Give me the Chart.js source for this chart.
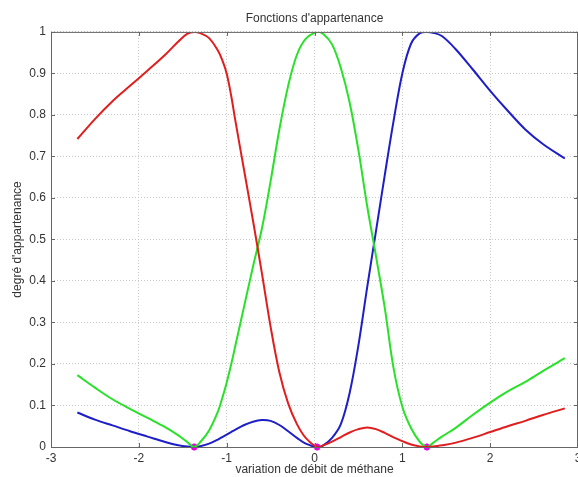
<!DOCTYPE html>
<html lang="fr">
<head>
<meta charset="UTF-8">
<title>Fonctions d'appartenance</title>
<script src="https://cdn.jsdelivr.net/npm/chart.js"></script>
<style>
  html, body { margin: 0; padding: 0; background: #fff; }
  #wrap { width: 578px; height: 477px; }
</style>
</head>
<body>
<div id="wrap"><canvas id="chart" width="578" height="477"></canvas></div>
<script>
// valeurs
const xValues = [-2.7, -2.5, -2.3, -2.1, -1.9, -1.7, -1.55, -1.45, -1.37, -1.3, -1.2, -1.1, -1.05, -1.0, -0.95, -0.9, -0.8, -0.7, -0.6, -0.5, -0.4, -0.3, -0.2, -0.1, 0.03,
                 0.1, 0.2, 0.3, 0.4, 0.5, 0.6, 0.7, 0.8, 0.9, 1.0, 1.1, 1.2, 1.28, 1.35, 1.45, 1.6, 1.8, 2.0, 2.2, 2.4, 2.6, 2.85];
const redValues = [0.742, 0.79, 0.833, 0.87, 0.907, 0.945, 0.977, 0.995, 1.0, 0.997, 0.985, 0.955, 0.932, 0.9, 0.848, 0.785, 0.665, 0.545, 0.42, 0.29, 0.18, 0.105, 0.055, 0.022, 0,
                   0.004, 0.013, 0.024, 0.035, 0.043, 0.047, 0.043, 0.034, 0.023, 0.014, 0.006, 0.0015, 0, 0.001, 0.004, 0.01, 0.022, 0.036, 0.05, 0.063, 0.077, 0.093];
const greenValues = [0.173, 0.143, 0.115, 0.092, 0.07, 0.048, 0.028, 0.012, 0, 0.012, 0.04, 0.085, 0.118, 0.155, 0.198, 0.245, 0.34, 0.435, 0.525, 0.64, 0.765, 0.87, 0.945, 0.983, 1.0,
                     0.995, 0.97, 0.913, 0.83, 0.715, 0.58, 0.46, 0.335, 0.19, 0.097, 0.045, 0.012, 0, 0.01, 0.025, 0.045, 0.077, 0.107, 0.134, 0.157, 0.183, 0.214];
const blueValues = [0.083, 0.066, 0.052, 0.038, 0.025, 0.012, 0.004, 0.001, 0, 0.002, 0.008, 0.018, 0.024, 0.03, 0.036, 0.042, 0.053, 0.061, 0.065, 0.063, 0.053, 0.038, 0.022, 0.008, 0,
                    0.004, 0.022, 0.055, 0.13, 0.245, 0.385, 0.52, 0.655, 0.785, 0.9, 0.972, 0.997, 1.0, 0.998, 0.99, 0.96, 0.91, 0.858, 0.81, 0.765, 0.73, 0.695];
const centerX = [-1.37, 0.03, 1.28];
const centerY = [0, 0, 0];
const xTicks = [-3, -2, -1, 0, 1, 2, 3];

const toPoints = (ys) => xValues.map((x, i) => ({x: x, y: ys[i]}));

const lineSet = (ys, color) => ({
    data: toPoints(ys),
    borderColor: color,
    borderWidth: 2,
    pointRadius: 0,
    fill: false,
    tension: 0.35,
    capBezierPoints: false
});

// cadre + petites graduations vers l'intérieur (style matlab)
const boxPlugin = {
    id: 'box',
    afterDatasetsDraw(chart) {
        const {ctx, chartArea: a, scales} = chart;
        ctx.save();
        ctx.strokeStyle = '#666';
        ctx.lineWidth = 1;
        ctx.strokeRect(a.left + 0.5, a.top + 0.5, a.right - a.left - 1, a.bottom - a.top);
        ctx.beginPath();
        xTicks.forEach(v => {
            const px = Math.round(scales.x.getPixelForValue(v)) + 0.5;
            ctx.moveTo(px, a.bottom); ctx.lineTo(px, a.bottom - 4);
            ctx.moveTo(px, a.top); ctx.lineTo(px, a.top + 4);
        });
        for (let k = 0; k <= 10; k++) {
            const py = Math.round(scales.y.getPixelForValue(k / 10)) + 0.5;
            ctx.moveTo(a.left, py); ctx.lineTo(a.left + 4, py);
            ctx.moveTo(a.right, py); ctx.lineTo(a.right - 4, py);
        }
        ctx.stroke();
        ctx.restore();
    }
};

const font = {family: "'Liberation Sans', Arial, Helvetica, sans-serif", size: 12};

new Chart(document.getElementById('chart'), {
    type: 'line',
    data: {
        datasets: [
            lineSet(redValues, 'rgb(225, 30, 30)'),
            lineSet(greenValues, 'rgb(40, 225, 40)'),
            lineSet(blueValues, 'rgb(30, 30, 200)'),
            {
                data: centerX.map((x, i) => ({x: x, y: centerY[i]})),
                showLine: false,
                clip: false,
                pointStyle: 'star',
                pointRadius: 3.5,
                borderColor: 'rgb(230, 0, 230)',
                backgroundColor: 'rgb(230, 0, 230)',
                borderWidth: 2
            }
        ]
    },
    options: {
        responsive: false,
        animation: false,
        events: [],
        layout: {padding: 0, autoPadding: false},
        plugins: {
            legend: {display: false},
            tooltip: {enabled: false},
            title: {
                display: true,
                fullSize: false,
                text: "Fonctions d'appartenance",
                color: '#333',
                font: {family: font.family, size: 12, weight: 'normal'},
                padding: {top: 11.5, bottom: 6}
            }
        },
        scales: {
            x: {
                type: 'linear',
                min: -3, max: 3,
                afterBuildTicks: (s) => { s.ticks = xTicks.map(v => ({value: v})); },
                afterFit: (s) => { s.height = 30; s.paddingLeft = 0; s.paddingRight = 0; },
                ticks: {color: '#333', font: font, padding: 4, maxRotation: 0},
                grid: {color: '#c8c8c8', drawTicks: false},
                border: {display: false, dash: [1, 2]},
                title: {display: true, text: 'variation de débit de méthane', color: '#333', font: font, padding: {top: 0, bottom: 0}}
            },
            y: {
                min: 0, max: 1,
                ticks: {stepSize: 0.1, color: '#333', font: font, padding: 5,
                        callback: (v) => String(+v.toFixed(1))},
                afterFit: (s) => { s.width = 51; s.paddingTop = 0; s.paddingBottom = 0; },
                grid: {color: '#c8c8c8', drawTicks: false},
                border: {display: false, dash: [1, 2]},
                title: {display: true, text: "degré d'appartenance", color: '#333', font: font, padding: {top: 10, bottom: 0}}
            }
        }
    },
    plugins: [boxPlugin]
});
</script>
</body>
</html>
